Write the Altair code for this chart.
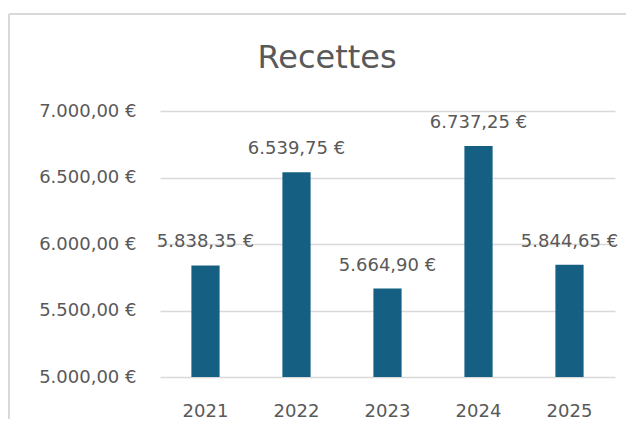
import altair as alt
import pandas as pd

years = ["2021", "2022", "2023", "2024", "2025"]
recettes = [5838.35, 6539.75, 5664.90, 6737.25, 5844.65]
y_ticks = [5000, 5500, 6000, 6500, 7000]
chart_title = "Recettes"

df = pd.DataFrame({"annee": years, "recettes": recettes})

FONT = "DejaVu Sans"
TXT = "#595959"
GRID = "#d9d9d9"
BAR = "#156082"

x_enc = alt.X("annee:N", sort=years, title=None,
              scale=alt.Scale(paddingInner=0.69, paddingOuter=0.345),
              axis=alt.Axis(labelAngle=0, domain=False, ticks=False,
                            labelFont=FONT, labelFontSize=18, labelColor=TXT,
                            labelPadding=25))
y_scale = alt.Scale(domain=[5000, 7000], zero=False, nice=False)

# chart frame: only the top and left edges are inside the picture
frame_top = alt.Chart(df).mark_rule(stroke=GRID, strokeWidth=1.5).encode(
    x=alt.value(-151), x2=alt.value(700), y=alt.value(-97)
)
frame_left = alt.Chart(df).mark_rule(stroke=GRID, strokeWidth=1.5).encode(
    x=alt.value(-151), y=alt.value(-97), y2=alt.value(500)
)

title = alt.Chart(pd.DataFrame({"t": [chart_title]})).mark_text(
    font=FONT, fontSize=32, color=TXT, align="center", baseline="alphabetic"
).encode(x=alt.value(167), y=alt.value(-43), text="t:N")

bars = alt.Chart(df).mark_bar(color=BAR).encode(
    x=x_enc,
    y=alt.Y("recettes:Q", scale=y_scale, title=None,
            axis=alt.Axis(values=y_ticks, format="$,.2f", domain=False, ticks=False,
                          gridColor=GRID, gridWidth=1.5,
                          labelFont=FONT, labelFontSize=18, labelColor=TXT,
                          labelPadding=24)),
    y2=alt.datum(5000),
)

labels = alt.Chart(df).mark_text(
    font=FONT, fontSize=18, color=TXT, baseline="alphabetic", dy=-18
).encode(
    x=alt.X("annee:N", sort=years),
    y=alt.Y("recettes:Q", scale=y_scale),
    text=alt.Text("recettes:Q", format="$,.2f"),
)

chart = alt.layer(frame_top, frame_left, title, bars, labels).properties(
    width=455, height=266,
    padding={"left": 152, "top": 103, "right": 11, "bottom": 42},
    autosize=alt.AutoSizeParams(type="none"),
).configure_view(stroke=None)

chart.save("out.html", embed_options={
    "renderer": "svg", "actions": False,
    "formatLocale": {"decimal": ",", "thousands": ".", "grouping": [3],
                     "currency": ["", " €"]},
})
